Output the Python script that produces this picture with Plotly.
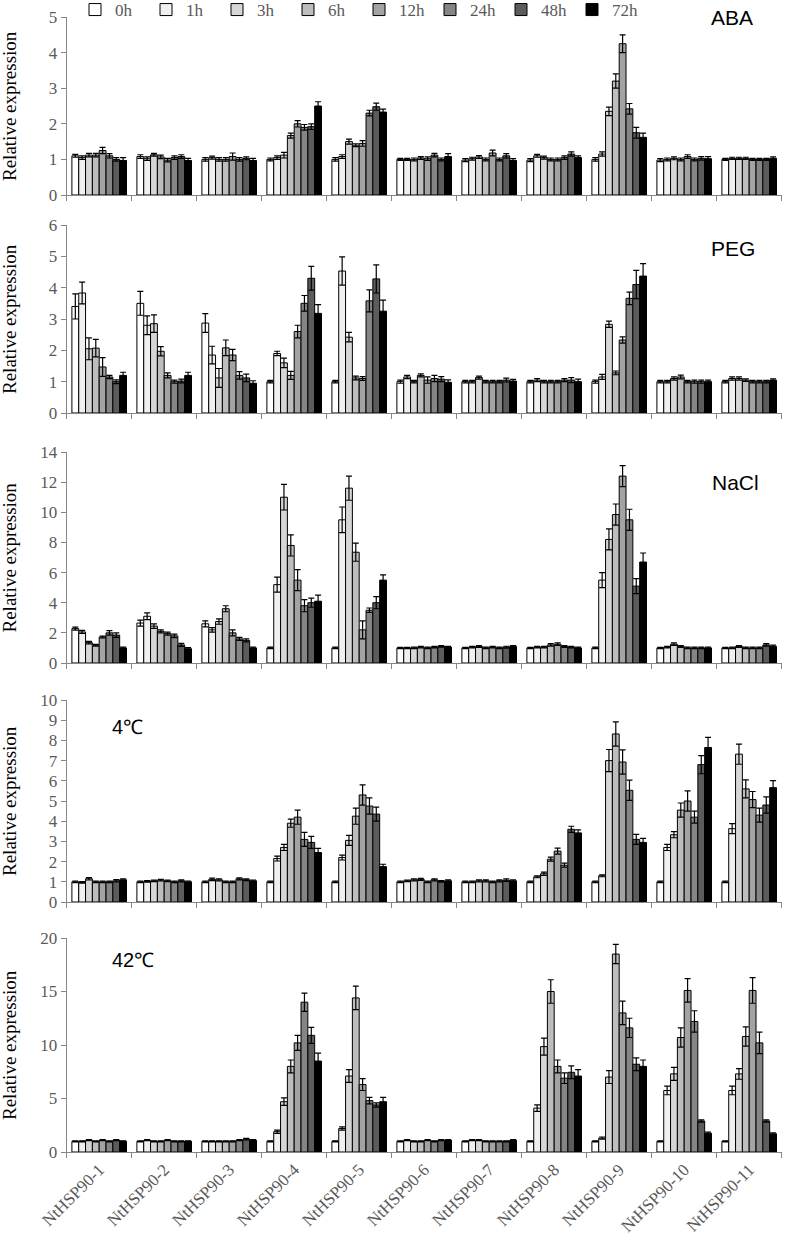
import plotly.graph_objects as go

genes = [f"NtHSP90-{i}" for i in range(1, 12)]
times = ["0h", "1h", "3h", "6h", "12h", "24h", "48h", "72h"]
colors = ["#ffffff", "#f0f0f0", "#d6d6d6", "#bdbdbd", "#a3a3a3", "#858585", "#5c5c5c", "#000000"]

# rows = genes (1..11), columns = time points (0h..72h)
aba_mean = [
    [1.10, 1.05, 1.12, 1.12, 1.25, 1.10, 1.00, 0.97],
    [1.08, 1.02, 1.13, 1.07, 0.98, 1.05, 1.08, 0.97],
    [1.00, 1.05, 1.00, 1.00, 1.08, 1.00, 1.03, 0.97],
    [1.00, 1.05, 1.12, 1.67, 2.00, 1.90, 1.92, 2.50],
    [1.00, 1.08, 1.50, 1.40, 1.45, 2.30, 2.48, 2.33],
    [1.00, 1.00, 1.00, 1.04, 1.02, 1.12, 1.00, 1.08],
    [0.98, 1.02, 1.07, 1.00, 1.18, 1.00, 1.10, 0.97],
    [0.98, 1.10, 1.05, 1.00, 1.00, 1.05, 1.15, 1.05],
    [1.00, 1.15, 2.35, 3.20, 4.25, 2.42, 1.75, 1.62],
    [0.98, 1.00, 1.03, 1.00, 1.08, 1.00, 1.03, 1.02],
    [1.00, 1.03, 1.03, 1.03, 1.00, 1.00, 1.00, 1.03],
]
aba_err = [
    [0.04, 0.05, 0.05, 0.05, 0.09, 0.06, 0.05, 0.08],
    [0.05, 0.05, 0.04, 0.05, 0.05, 0.05, 0.05, 0.06],
    [0.05, 0.04, 0.05, 0.05, 0.10, 0.05, 0.04, 0.06],
    [0.04, 0.05, 0.08, 0.07, 0.09, 0.08, 0.08, 0.12],
    [0.05, 0.05, 0.07, 0.04, 0.08, 0.08, 0.10, 0.08],
    [0.03, 0.03, 0.04, 0.04, 0.05, 0.05, 0.04, 0.08],
    [0.04, 0.04, 0.04, 0.04, 0.08, 0.04, 0.06, 0.05],
    [0.04, 0.04, 0.04, 0.04, 0.04, 0.05, 0.06, 0.05],
    [0.05, 0.06, 0.12, 0.20, 0.25, 0.15, 0.15, 0.12],
    [0.04, 0.04, 0.04, 0.04, 0.05, 0.04, 0.05, 0.06],
    [0.03, 0.03, 0.03, 0.03, 0.03, 0.03, 0.03, 0.04],
]

peg_mean = [
    [3.40, 3.83, 2.05, 2.07, 1.47, 1.15, 1.00, 1.20],
    [3.50, 2.80, 2.85, 1.97, 1.20, 1.00, 1.02, 1.20],
    [2.87, 1.85, 1.12, 2.08, 1.85, 1.20, 1.12, 0.95],
    [1.00, 1.90, 1.60, 1.20, 2.60, 3.50, 4.30, 3.18],
    [1.00, 4.53, 2.42, 1.12, 1.10, 3.58, 4.28, 3.25],
    [1.00, 1.15, 1.00, 1.20, 1.05, 1.10, 1.08, 0.98],
    [1.00, 1.00, 1.13, 1.00, 1.00, 1.00, 1.05, 1.02],
    [1.00, 1.05, 1.00, 1.00, 1.00, 1.05, 1.05, 1.00],
    [1.00, 1.15, 2.83, 1.28, 2.33, 3.66, 4.10, 4.37],
    [1.00, 1.00, 1.10, 1.15, 1.00, 1.00, 1.00, 1.00],
    [1.00, 1.10, 1.10, 1.05, 1.00, 1.00, 1.00, 1.05],
]
peg_err = [
    [0.40, 0.35, 0.35, 0.28, 0.30, 0.05, 0.06, 0.10],
    [0.38, 0.30, 0.28, 0.15, 0.08, 0.05, 0.06, 0.10],
    [0.30, 0.28, 0.30, 0.25, 0.18, 0.12, 0.12, 0.08],
    [0.04, 0.07, 0.15, 0.13, 0.20, 0.25, 0.38, 0.28],
    [0.04, 0.45, 0.15, 0.06, 0.06, 0.35, 0.45, 0.35],
    [0.05, 0.05, 0.04, 0.05, 0.10, 0.10, 0.08, 0.08],
    [0.04, 0.04, 0.05, 0.04, 0.04, 0.04, 0.06, 0.05],
    [0.04, 0.05, 0.04, 0.04, 0.04, 0.05, 0.08, 0.08],
    [0.05, 0.08, 0.10, 0.06, 0.10, 0.20, 0.45, 0.40],
    [0.04, 0.04, 0.05, 0.06, 0.04, 0.05, 0.05, 0.05],
    [0.04, 0.05, 0.05, 0.04, 0.04, 0.04, 0.04, 0.04],
]

nacl_mean = [
    [2.28, 2.06, 1.35, 1.18, 1.72, 2.00, 1.85, 1.00],
    [2.65, 3.10, 2.45, 2.10, 1.95, 1.80, 1.20, 0.95],
    [2.60, 2.20, 2.75, 3.60, 2.00, 1.60, 1.50, 1.00],
    [1.00, 5.20, 11.0, 7.80, 5.50, 3.80, 4.00, 4.10],
    [1.00, 9.50, 11.6, 7.35, 2.20, 3.50, 4.00, 5.50],
    [1.00, 1.00, 1.00, 1.05, 1.00, 1.05, 1.10, 1.05],
    [1.00, 1.05, 1.10, 1.00, 1.05, 1.00, 1.05, 1.10],
    [1.00, 1.05, 1.05, 1.20, 1.25, 1.10, 1.05, 1.00],
    [1.00, 5.50, 8.20, 9.85, 12.4, 9.50, 5.10, 6.70],
    [1.00, 1.05, 1.25, 1.10, 1.00, 1.00, 1.00, 1.00],
    [1.00, 1.00, 1.10, 1.00, 1.00, 1.00, 1.20, 1.10],
]
nacl_err = [
    [0.10, 0.10, 0.08, 0.06, 0.06, 0.15, 0.15, 0.05],
    [0.20, 0.22, 0.15, 0.10, 0.10, 0.12, 0.10, 0.08],
    [0.20, 0.15, 0.18, 0.20, 0.20, 0.10, 0.10, 0.05],
    [0.05, 0.50, 0.85, 0.70, 0.70, 0.40, 0.30, 0.40],
    [0.05, 0.85, 0.80, 0.60, 0.60, 0.15, 0.40, 0.35],
    [0.04, 0.04, 0.05, 0.05, 0.05, 0.05, 0.05, 0.05],
    [0.04, 0.05, 0.06, 0.05, 0.05, 0.05, 0.06, 0.06],
    [0.04, 0.05, 0.05, 0.08, 0.08, 0.06, 0.05, 0.05],
    [0.05, 0.50, 0.70, 0.70, 0.70, 0.70, 0.50, 0.60],
    [0.04, 0.05, 0.08, 0.06, 0.05, 0.05, 0.05, 0.05],
    [0.04, 0.05, 0.06, 0.05, 0.05, 0.05, 0.08, 0.08],
]

cold_mean = [
    [1.00, 0.97, 1.15, 1.00, 1.00, 1.00, 1.05, 1.10],
    [1.00, 1.02, 1.05, 1.08, 1.05, 1.00, 1.05, 1.00],
    [1.00, 1.12, 1.10, 1.00, 1.00, 1.15, 1.10, 1.05],
    [1.00, 2.15, 2.70, 3.90, 4.20, 3.10, 2.95, 2.45],
    [1.00, 2.20, 3.05, 4.25, 5.30, 4.75, 4.35, 1.75],
    [1.00, 1.05, 1.10, 1.12, 1.00, 1.10, 1.02, 1.05],
    [1.00, 1.00, 1.05, 1.05, 1.00, 1.05, 1.08, 1.05],
    [1.00, 1.25, 1.40, 2.12, 2.52, 1.82, 3.60, 3.42],
    [1.00, 1.30, 7.00, 8.32, 6.93, 5.53, 3.10, 2.95],
    [1.00, 2.70, 3.33, 4.55, 5.00, 4.20, 6.80, 7.65],
    [1.00, 3.63, 7.32, 5.60, 5.07, 4.30, 4.80, 5.66],
]
cold_err = [
    [0.04, 0.04, 0.06, 0.04, 0.04, 0.04, 0.06, 0.05],
    [0.04, 0.04, 0.04, 0.04, 0.04, 0.04, 0.05, 0.04],
    [0.04, 0.06, 0.05, 0.04, 0.04, 0.05, 0.04, 0.04],
    [0.04, 0.12, 0.15, 0.20, 0.35, 0.35, 0.30, 0.20],
    [0.04, 0.12, 0.25, 0.40, 0.50, 0.40, 0.35, 0.12],
    [0.04, 0.04, 0.05, 0.05, 0.04, 0.05, 0.04, 0.05],
    [0.04, 0.04, 0.05, 0.05, 0.04, 0.05, 0.06, 0.05],
    [0.04, 0.05, 0.08, 0.10, 0.15, 0.10, 0.15, 0.15],
    [0.04, 0.05, 0.55, 0.60, 0.60, 0.50, 0.25, 0.20],
    [0.04, 0.15, 0.15, 0.35, 0.50, 0.30, 0.45, 0.50],
    [0.04, 0.25, 0.50, 0.45, 0.40, 0.35, 0.40, 0.35],
]

heat_mean = [
    [1.00, 1.00, 1.10, 1.00, 1.10, 1.00, 1.10, 1.00],
    [1.00, 1.10, 1.00, 1.00, 1.10, 1.00, 1.00, 1.00],
    [1.00, 1.00, 1.00, 1.00, 1.00, 1.10, 1.20, 1.10],
    [1.00, 1.90, 4.70, 8.00, 10.2, 14.0, 10.9, 8.50],
    [1.00, 2.20, 7.10, 14.4, 6.30, 4.80, 4.40, 4.70],
    [1.00, 1.10, 1.00, 1.00, 1.10, 1.00, 1.10, 1.10],
    [1.00, 1.10, 1.10, 1.00, 1.00, 1.00, 1.00, 1.10],
    [1.00, 4.10, 9.85, 15.0, 8.00, 6.90, 7.45, 7.10],
    [1.00, 1.30, 7.00, 18.5, 13.0, 11.6, 8.20, 8.00],
    [1.00, 5.75, 7.30, 10.7, 15.1, 12.2, 2.90, 1.75],
    [1.00, 5.75, 7.30, 10.8, 15.1, 10.2, 2.90, 1.70],
]
heat_err = [
    [0.05, 0.05, 0.05, 0.05, 0.05, 0.05, 0.05, 0.05],
    [0.05, 0.05, 0.05, 0.05, 0.05, 0.05, 0.05, 0.05],
    [0.05, 0.05, 0.05, 0.05, 0.05, 0.05, 0.08, 0.05],
    [0.05, 0.15, 0.35, 0.60, 0.70, 0.85, 0.75, 0.75],
    [0.05, 0.15, 0.60, 1.10, 0.55, 0.30, 0.20, 0.40],
    [0.05, 0.05, 0.05, 0.05, 0.05, 0.05, 0.05, 0.05],
    [0.05, 0.05, 0.05, 0.05, 0.05, 0.05, 0.05, 0.05],
    [0.05, 0.30, 0.80, 1.10, 0.60, 0.50, 0.60, 0.60],
    [0.05, 0.10, 0.60, 0.90, 1.10, 0.90, 0.60, 0.60],
    [0.05, 0.40, 0.60, 0.90, 1.10, 1.00, 0.10, 0.10],
    [0.05, 0.40, 0.50, 0.90, 1.20, 1.00, 0.10, 0.10],
]

panel_labels = ["ABA", "PEG", "NaCl", "4\u2103", "42\u2103"]
panel_means = [aba_mean, peg_mean, nacl_mean, cold_mean, heat_mean]
panel_errs = [aba_err, peg_err, nacl_err, cold_err, heat_err]
panel_ranges = [[0, 5], [0, 6], [0, 14], [0, 10], [0, 20]]
panel_dticks = [1, 1, 2, 1, 5]

W, H = 788, 1245
# pixel rows of each panel (zero line, top of range)
panel_px = [(195, 17), (413, 225), (663, 452), (902, 700), (1152, 938)]
x_px = (66.7, 781.7)

SERIF = "Liberation Serif"
SANS = "Liberation Sans"
GRAY = "#595959"

fig = go.Figure()
for p in range(5):
    xa = "x" if p == 0 else f"x{p+1}"
    ya = "y" if p == 0 else f"y{p+1}"
    for t, tname in enumerate(times):
        fig.add_trace(go.Bar(
            x=genes,
            y=[panel_means[p][g][t] for g in range(len(genes))],
            error_y=dict(type="data", array=[panel_errs[p][g][t] for g in range(len(genes))],
                         symmetric=True, color="#000000", thickness=1.2, width=3),
            name=tname, legendgroup=tname, showlegend=(p == 0),
            marker=dict(color=colors[t], line=dict(color="#000000", width=1)),
            xaxis=xa, yaxis=ya, cliponaxis=False,
        ))

layout = dict(
    width=W, height=H, margin=dict(l=0, r=0, t=0, b=0, autoexpand=False),
    paper_bgcolor="white", plot_bgcolor="white",
    font=dict(family=SERIF),
    barmode="group", bargap=0.16, bargroupgap=0,
    showlegend=True,
    legend=dict(orientation="h", x=75 / W, y=1 + 8 / H, xanchor="left", yanchor="top",
                font=dict(family=SERIF, size=17, color=GRAY),
                entrywidth=26, entrywidthmode="pixels", itemwidth=30,
                bgcolor="rgba(0,0,0,0)", traceorder="normal"),
)
annotations = []
for p in range(5):
    z, top = panel_px[p]
    dom_y = [1 - z / H, 1 - top / H]
    xkey = "xaxis" if p == 0 else f"xaxis{p+1}"
    ykey = "yaxis" if p == 0 else f"yaxis{p+1}"
    ya = "y" if p == 0 else f"y{p+1}"
    layout[xkey] = dict(
        domain=[x_px[0] / W, x_px[1] / W], anchor=ya, type="category", automargin=False,
        tickson="boundaries", ticks="outside", ticklen=5, tickcolor="#868686",
        showline=True, linecolor="#868686", linewidth=1, showgrid=False,
        showticklabels=(p == 4), tickangle=-45,
        tickfont=dict(family=SERIF, size=17, color=GRAY),
    )
    layout[ykey] = dict(
        domain=dom_y, anchor="x" if p == 0 else f"x{p+1}", automargin=False,
        range=panel_ranges[p], dtick=panel_dticks[p], tick0=0,
        ticks="outside", ticklen=5, tickcolor="#868686",
        showline=True, linecolor="#868686", linewidth=1, showgrid=False, zeroline=False,
        tickfont=dict(family=SERIF, size=17, color=GRAY),
    )
    annotations.append(dict(
        text="Relative expression", textangle=-90, showarrow=False,
        xref="paper", yref="paper", x=9 / W, y=(dom_y[0] + dom_y[1]) / 2,
        xanchor="center", yanchor="middle",
        font=dict(family=SERIF, size=19, color="#000000"),
    ))

label_pos = [(732, 17), (733, 249), (735, 482), (128, 727), (133, 960)]
for p, (lx, ly) in enumerate(label_pos):
    annotations.append(dict(
        text=panel_labels[p], showarrow=False, xref="paper", yref="paper",
        x=lx / W, y=1 - ly / H, xanchor="center", yanchor="middle",
        font=dict(family=SANS, size=21 if p < 3 else 20, color="#000000"),
    ))
layout["annotations"] = annotations
fig.update_layout(**layout)
fig.write_html("out.html", config={"displayModeBar": False},
               post_script="document.body.style.margin='0';")
